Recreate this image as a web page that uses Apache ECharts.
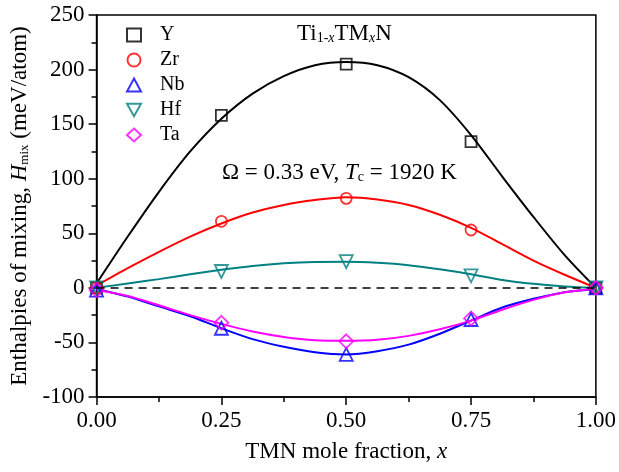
<!DOCTYPE html>
<html>
<head>
<meta charset="utf-8">
<script src="https://cdn.jsdelivr.net/npm/echarts@6/dist/echarts.min.js"></script>
<style>
    html, body { margin: 0; padding: 0; background: #fff; }
    #chartmain { width: 619px; height: 472px; }
</style>
</head>
<body>
<div id="chartmain"></div>
<script>
// calculated points
var pointX = [0, 0.25, 0.5, 0.75, 1];
var yPts  = [0, 158, 205, 134, 0];
var zrPts = [0, 61, 82, 53, 0];
var nbPts = [-2, -37, -61, -29, 0];
var hfPts = [0, 15, 24, 11, 0];
var taPts = [-2, -32, -49, -28, 0];

// fitted curves, every 1/16
var fitX  = [0, 0.0625, 0.125, 0.1875, 0.25, 0.3125, 0.375, 0.4375, 0.5,
             0.5625, 0.625, 0.6875, 0.75, 0.8125, 0.875, 0.9375, 1];
var yFit  = [4, 47, 88, 125, 155, 178, 194, 204, 207, 204, 193, 172, 140, 102, 65, 30, 0];
var zrFit = [2, 18, 33, 47, 59, 69, 76, 80.5, 83, 81, 76, 67, 55, 40, 25, 12, 0];
var nbFit = [-1, -8, -17, -26, -37, -47, -54, -59, -61, -58, -52, -42, -30, -18, -10, -4, -1];
var hfFit = [0, 4, 8, 12.5, 16.5, 20, 22.5, 23.8, 24, 23, 20.8, 17, 12.5, 7.3, 3.7, 1.2, 0];
var taFit = [-2, -7.5, -16, -25, -33, -40, -45, -48, -48.5, -47.6, -44, -38, -30, -20, -11, -4, -1];

var names   = ['Y', 'Zr', 'Nb', 'Hf', 'Ta'];
var colors  = ['#000000', '#ff0000', '#0000ff', '#008080', '#ff00ff'];
var symbols = ['rect', 'circle', 'triangle', 'path://M0,0L10,0L5,9Z', 'diamond'];
var sizes   = [11, 11, 13, 13, 14];
var allPts  = [yPts, zrPts, nbPts, hfPts, taPts];
var allFit  = [yFit, zrFit, nbFit, hfFit, taFit];

var serif = 'Liberation Serif';

function pairs(xs, ys) {
    var out = [];
    for (var i = 0; i < xs.length; i++) {
        out.push([xs[i], ys[i]]);
    }
    return out;
}

var series = [];
for (var i = 0; i < names.length; i++) {
    series.push({
        name: names[i] + ' fit',
        type: 'line',
        smooth: 0.3,
        showSymbol: false,
        silent: true,
        lineStyle: { color: colors[i], width: 2 },
        data: pairs(fitX, allFit[i]),
        z: 2
    });
}
// zero line
series[0].markLine = {
    silent: true,
    symbol: 'none',
    label: { show: false },
    lineStyle: { color: '#000', type: [8, 6], width: 1.5 },
    data: [{ yAxis: 0 }]
};
for (var j = 0; j < names.length; j++) {
    series.push({
        name: names[j],
        type: 'scatter',
        symbol: symbols[j],
        symbolSize: sizes[j],
        itemStyle: { color: 'rgba(255,255,255,0)', borderColor: colors[j], borderWidth: 1.8 },
        data: pairs(pointX, allPts[j]),
        z: 3
    });
}

var option = {
    animation: false,
    backgroundColor: '#fff',
    grid: {
        left: 96, right: 23, top: 15, bottom: 75,
        show: true, borderColor: '#000', borderWidth: 1.5
    },
    legend: {
        data: names,
        orient: 'vertical',
        left: 121,
        top: 20,
        itemWidth: 14,
        itemHeight: 13,
        itemGap: 5,
        textStyle: { fontFamily: serif, fontSize: 20, lineHeight: 20, color: '#000', padding: [0, 0, 0, 14] }
    },
    xAxis: {
        type: 'value',
        min: 0,
        max: 1,
        interval: 0.25,
        name: '{a|TMN mole fraction, }{i|x}',
        nameLocation: 'middle',
        nameGap: 43,
        nameTextStyle: {
            rich: {
                a: { fontFamily: serif, fontSize: 23, color: '#000' },
                i: { fontFamily: serif, fontSize: 23, fontStyle: 'italic', color: '#000' }
            }
        },
        axisLine: { onZero: false, lineStyle: { color: '#000', width: 1.5 } },
        axisTick: { length: 8, lineStyle: { color: '#000', width: 1.5 } },
        minorTick: { show: true, splitNumber: 2, length: 5, lineStyle: { color: '#000', width: 1.5 } },
        splitLine: { show: false },
        axisLabel: {
            margin: 12,
            fontFamily: serif, fontSize: 23, color: '#000',
            formatter: function (v) { return v.toFixed(2); }
        }
    },
    yAxis: {
        type: 'value',
        min: -100,
        max: 250,
        interval: 50,
        name: '{a|Enthalpies of mixing, }{i|H}{s|mix}{a| (meV/atom)}',
        nameLocation: 'middle',
        nameRotate: 90,
        nameGap: 62,
        nameTextStyle: {
            rich: {
                a: { fontFamily: serif, fontSize: 23, color: '#000', lineHeight: 24 },
                i: { fontFamily: serif, fontSize: 23, fontStyle: 'italic', color: '#000', lineHeight: 24 },
                s: { fontFamily: serif, fontSize: 13, color: '#000', verticalAlign: 'bottom', lineHeight: 24 }
            }
        },
        axisLine: { lineStyle: { color: '#000', width: 1.5 } },
        axisTick: { length: 8, lineStyle: { color: '#000', width: 1.5 } },
        minorTick: { show: true, splitNumber: 2, length: 5, lineStyle: { color: '#000', width: 1.5 } },
        splitLine: { show: false },
        axisLabel: { margin: 12, fontFamily: serif, fontSize: 23, color: '#000' }
    },
    graphic: [
        {
            type: 'text',
            left: 297,
            top: 22,
            style: {
                text: '{a|Ti}{s|1-}{si|x}{a|TM}{si|x}{a|N}',
                rich: {
                    a: { fontFamily: serif, fontSize: 23, fill: '#000', lineHeight: 24 },
                    s: { fontFamily: serif, fontSize: 14, fill: '#000', verticalAlign: 'bottom', lineHeight: 24 },
                    si: { fontFamily: serif, fontSize: 14, fontStyle: 'italic', fill: '#000', verticalAlign: 'bottom', lineHeight: 24 }
                }
            }
        },
        {
            type: 'text',
            left: 222,
            top: 161,
            style: {
                text: '{a|\u03a9 = 0.33 eV, }{i|T}{s|c}{a| = 1920 K}',
                rich: {
                    a: { fontFamily: serif, fontSize: 23, fill: '#000', lineHeight: 24 },
                    i: { fontFamily: serif, fontSize: 23, fontStyle: 'italic', fill: '#000', lineHeight: 24 },
                    s: { fontFamily: serif, fontSize: 14, fill: '#000', verticalAlign: 'bottom', lineHeight: 24 }
                }
            }
        }
    ],
    series: series
};

var myChart = echarts.init(document.getElementById('chartmain'));
myChart.setOption(option);
</script>
</body>
</html>
